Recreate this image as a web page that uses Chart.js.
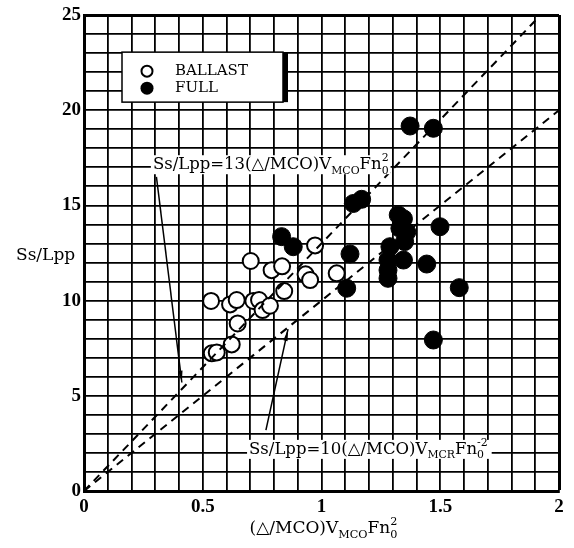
<!DOCTYPE html>
<html>
<head>
<meta charset="utf-8">
<script src="https://cdn.jsdelivr.net/npm/chart.js@4"></script>
<style>
  body { margin: 0; background: #fff; }
  canvas { display: block; }
</style>
</head>
<body>
<canvas id="chart" width="574" height="548"></canvas>
<script>
// Datos
const ballastX = [0.973, 0.702, 0.79, 0.834, 0.933, 0.952, 0.843, 0.535, 0.615, 0.643, 0.713, 0.737, 0.752, 0.783, 0.647, 0.622, 0.538, 0.559, 1.064];
const ballastY = [12.9, 12.08, 11.6, 11.8, 11.38, 11.08, 10.5, 9.98, 9.8, 10.03, 9.98, 10.03, 9.5, 9.73, 8.8, 7.7, 7.23, 7.28, 11.43];

const fullX = [1.373, 1.471, 1.134, 1.169, 1.323, 1.345, 1.499, 1.33, 1.359, 1.35, 1.288, 1.12, 1.345, 1.28, 1.443, 1.28, 1.28, 1.106, 1.58, 1.471, 0.832, 0.881];
const fullY = [19.17, 19.05, 15.1, 15.32, 14.5, 14.3, 13.88, 13.8, 13.6, 13.1, 12.83, 12.45, 12.13, 12.13, 11.92, 11.6, 11.17, 10.65, 10.68, 7.93, 13.36, 12.83];

// rectas Ss/Lpp = 13 x  y  Ss/Lpp = 10 x (extremos)
const line13X = [0, 1.923];
const line13Y = [0, 25];
const line10X = [0, 2];
const line10Y = [0, 20];

const xTickLabels = [0, 0.5, 1, 1.5, 2];
const yTickLabels = [0, 5, 10, 15, 20, 25];

const SERIF = "'Liberation Serif', 'DejaVu Serif', serif";
const WIDE = "'DejaVu Serif', serif";

const toPoints = (xs, ys) => xs.map((x, i) => ({ x: x, y: ys[i] }));
const isLabel = (list, v) => list.some((t) => Math.abs(t - v) < 1e-6);

// dibuja texto con subindices / superindices
function richWidth(ctx, parts, size) {
    let w = 0;
    parts.forEach((p) => {
        if (p.k === "n") {
            ctx.font = `${size}px ${WIDE}`;
            w += ctx.measureText(p.t).width;
        } else if (p.k === "subsup") {
            ctx.font = `${size * 0.66}px ${WIDE}`;
            w += Math.max(ctx.measureText(p.t[0]).width, ctx.measureText(p.t[1]).width);
        } else {
            ctx.font = `${size * 0.66}px ${WIDE}`;
            w += ctx.measureText(p.t).width;
        }
    });
    return w;
}

function drawRich(ctx, parts, x, y, size) {
    let cx = x;
    ctx.textBaseline = "alphabetic";
    ctx.textAlign = "left";
    ctx.fillStyle = "#000";
    parts.forEach((p) => {
        if (p.k === "n") {
            ctx.font = `${size}px ${WIDE}`;
            ctx.fillText(p.t, cx, y);
            cx += ctx.measureText(p.t).width;
        } else if (p.k === "sub") {
            ctx.font = `${size * 0.66}px ${WIDE}`;
            ctx.fillText(p.t, cx, y + size * 0.28);
            cx += ctx.measureText(p.t).width;
        } else if (p.k === "subsup") {
            ctx.font = `${size * 0.66}px ${WIDE}`;
            ctx.fillText(p.t[0], cx, y + size * 0.28);
            ctx.fillText(p.t[1], cx, y - size * 0.5);
            cx += Math.max(ctx.measureText(p.t[0]).width, ctx.measureText(p.t[1]).width);
        }
    });
}

function arrow(ctx, x1, y1, x2, y2) {
    ctx.save();
    ctx.strokeStyle = "#000";
    ctx.fillStyle = "#000";
    ctx.lineWidth = 1.5;
    ctx.setLineDash([]);
    ctx.beginPath();
    ctx.moveTo(x1, y1);
    ctx.lineTo(x2, y2);
    ctx.stroke();
    const a = Math.atan2(y2 - y1, x2 - x1);
    ctx.beginPath();
    ctx.moveTo(x2, y2);
    ctx.lineTo(x2 - 12 * Math.cos(a - 0.18), y2 - 12 * Math.sin(a - 0.18));
    ctx.lineTo(x2 - 12 * Math.cos(a + 0.18), y2 - 12 * Math.sin(a + 0.18));
    ctx.closePath();
    ctx.fill();
    ctx.restore();
}

const label13 = [
    { t: "Ss/Lpp=13(\u25B3/MCO)V", k: "n" },
    { t: "MCO", k: "sub" },
    { t: "Fn", k: "n" },
    { t: ["0", "2"], k: "subsup" },
];
const label10 = [
    { t: "Ss/Lpp=10(\u25B3/MCO)V", k: "n" },
    { t: "MCR", k: "sub" },
    { t: "Fn", k: "n" },
    { t: ["0", "-2"], k: "subsup" },
];
const xTitle = [
    { t: "(\u25B3/MCO)V", k: "n" },
    { t: "MCO", k: "sub" },
    { t: "Fn", k: "n" },
    { t: ["0", "2"], k: "subsup" },
];

// plugin para titulos, leyenda y anotaciones
const extras = {
    id: "extras",
    afterDatasetsDraw(chart) {
        const ctx = chart.ctx;
        const xs = chart.scales.x;
        const ys = chart.scales.y;
        ctx.save();

        // anotacion superior
        let px = xs.getPixelForValue(0.29);
        let py = ys.getPixelForValue(16.9);
        let w = richWidth(ctx, label13, 16.5);
        ctx.fillStyle = "#fff";
        ctx.fillRect(px - 2, py - 14, w + 4, 19);
        drawRich(ctx, label13, px, py, 16.5);
        arrow(ctx, xs.getPixelForValue(0.305), ys.getPixelForValue(16.5), xs.getPixelForValue(0.412), ys.getPixelForValue(5.7));

        // anotacion inferior
        px = xs.getPixelForValue(0.695);
        py = ys.getPixelForValue(1.95);
        w = richWidth(ctx, label10, 16.5);
        ctx.fillStyle = "#fff";
        ctx.fillRect(px - 2, py - 14, w + 6, 19);
        drawRich(ctx, label10, px, py, 16.5);
        arrow(ctx, xs.getPixelForValue(0.766), ys.getPixelForValue(3.2), xs.getPixelForValue(0.859), ys.getPixelForValue(8.5));

        // leyenda
        const lx = xs.getPixelForValue(0.16);
        const ly = ys.getPixelForValue(23.05);
        const lw = 163;
        const lh = 50;
        ctx.fillStyle = "#000";
        ctx.fillRect(lx + lw - 2, ly, 5, lh);
        ctx.fillStyle = "#fff";
        ctx.fillRect(lx, ly, lw - 2, lh);
        ctx.strokeStyle = "#000";
        ctx.lineWidth = 1.5;
        ctx.strokeRect(lx, ly, lw - 2, lh);
        ctx.beginPath();
        ctx.arc(lx + 25, ly + 19, 5.5, 0, Math.PI * 2);
        ctx.lineWidth = 2;
        ctx.stroke();
        ctx.beginPath();
        ctx.arc(lx + 25, ly + 36, 6.5, 0, Math.PI * 2);
        ctx.fillStyle = "#000";
        ctx.fill();
        ctx.font = `15px ${WIDE}`;
        ctx.textBaseline = "middle";
        ctx.fillText("BALLAST", lx + 53, ly + 19);
        ctx.fillText("FULL", lx + 53, ly + 36);

        // titulo eje y
        ctx.font = `17px ${WIDE}`;
        ctx.textBaseline = "alphabetic";
        ctx.fillText("Ss/Lpp", 16, 260);

        // titulo eje x
        w = richWidth(ctx, xTitle, 17);
        drawRich(ctx, xTitle, (xs.left + xs.right) / 2 - w / 2 + 2, 533, 17);

        ctx.restore();
    },
};

new Chart(document.getElementById("chart"), {
    type: "scatter",
    data: {
        datasets: [
            {
                type: "line",
                data: toPoints(line13X, line13Y),
                borderColor: "#000",
                borderWidth: 2,
                borderDash: [8, 6],
                pointRadius: 0,
                fill: false,
            },
            {
                type: "line",
                data: toPoints(line10X, line10Y),
                borderColor: "#000",
                borderWidth: 2,
                borderDash: [8, 6],
                pointRadius: 0,
                fill: false,
            },
            {
                label: "BALLAST",
                data: toPoints(ballastX, ballastY),
                pointRadius: 8,
                pointBackgroundColor: "#fff",
                pointBorderColor: "#000",
                pointBorderWidth: 2,
            },
            {
                label: "FULL",
                data: toPoints(fullX, fullY),
                pointRadius: 9,
                pointBackgroundColor: "#000",
                pointBorderColor: "#000",
                pointBorderWidth: 1,
            },
        ],
    },
    options: {
        responsive: false,
        animation: false,
        layout: { padding: { top: 15, right: 15, left: 0, bottom: 0 } },
        plugins: { legend: { display: false }, tooltip: { enabled: false } },
        scales: {
            x: {
                type: "linear",
                min: 0,
                max: 2,
                afterFit: (s) => { s.height = 57; },
                border: { display: true, color: "#000", width: 3 },
                grid: {
                    color: "#000",
                    lineWidth: (c) => (c.tick && Math.abs(c.tick.value - 2) < 1e-6 ? 3 : 1.8),
                    drawTicks: false,
                },
                ticks: {
                    stepSize: 0.1,
                    autoSkip: false,
                    maxRotation: 0,
                    padding: 5,
                    color: "#000",
                    font: { family: SERIF, size: 19, weight: "bold" },
                    callback: (v) => (isLabel(xTickLabels, v) ? String(Math.round(v * 10) / 10) : ""),
                },
            },
            y: {
                min: 0,
                max: 25,
                afterFit: (s) => { s.width = 84; },
                border: { display: true, color: "#000", width: 3 },
                grid: {
                    color: "#000",
                    lineWidth: (c) => (c.tick && c.tick.value === 25 ? 3 : 1.8),
                    drawTicks: false,
                },
                ticks: {
                    stepSize: 1,
                    autoSkip: false,
                    padding: 3,
                    color: "#000",
                    font: { family: SERIF, size: 19, weight: "bold" },
                    callback: (v) => (isLabel(yTickLabels, v) ? String(v) : ""),
                },
            },
        },
    },
    plugins: [extras],
});
</script>
</body>
</html>
